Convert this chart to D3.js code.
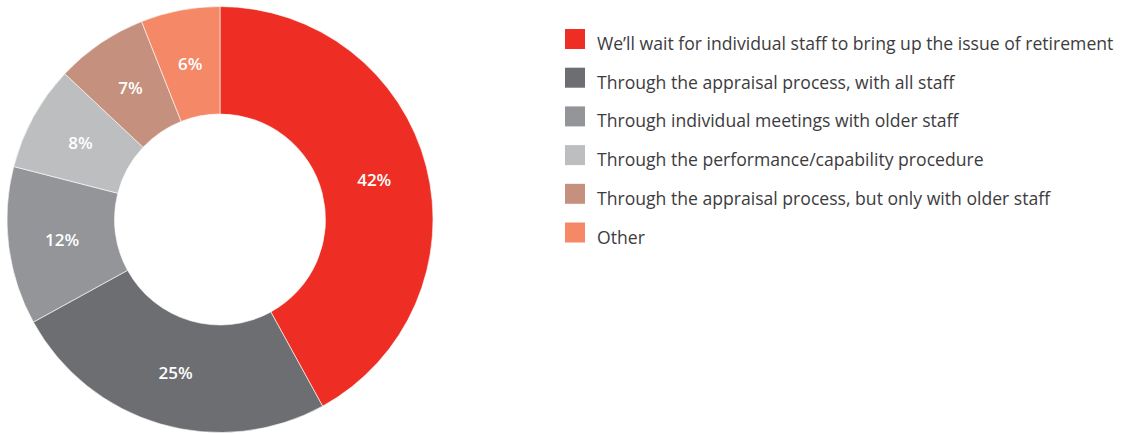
<!DOCTYPE html>
<html>
<head>
<meta charset="utf-8">
<script src="https://cdn.jsdelivr.net/npm/d3@7"></script>
<style>
  html, body { margin: 0; padding: 0; background: #ffffff; }
  svg { display: block; }
</style>
</head>
<body>
<svg id="chart" width="1126" height="434"></svg>
<script>
// How organisations raise the subject of retirement (share of respondents, %)
const categories = [
  "We\u2019ll wait for individual staff to bring up the issue of retirement",
  "Through the appraisal process, with all staff",
  "Through individual meetings with older staff",
  "Through the performance/capability procedure",
  "Through the appraisal process, but only with older staff",
  "Other"
];
const values = [42, 25, 12, 8, 7, 6];
const colors = ["#ee2e24", "#6d6e71", "#939598", "#bcbec0", "#c5917e", "#f58967"];

const svg = d3.select("#chart");
const cx = 220, cy = 219.5;
const outerR = 213, innerR = 105.5;

const color = d3.scaleOrdinal().domain(categories).range(colors);

const pie = d3.pie()
  .value(d => d.value)
  .sort(null)
  .startAngle(0)
  .endAngle(2 * Math.PI);

const arc = d3.arc().innerRadius(innerR).outerRadius(outerR);

const data = categories.map((c, i) => ({ name: c, value: values[i] }));
const arcs = pie(data);

const g = svg.append("g").attr("transform", `translate(${cx},${cy})`);

g.selectAll("path.slice")
  .data(arcs)
  .join("path")
  .attr("class", "slice")
  .attr("d", arc)
  .attr("fill", d => color(d.data.name))
  .attr("stroke", "#ffffff")
  .attr("stroke-width", 0.6);

g.selectAll("text.pct")
  .data(arcs)
  .join("text")
  .attr("class", "pct")
  .attr("transform", d => `translate(${arc.centroid(d)})`)
  .attr("text-anchor", "middle")
  .attr("dominant-baseline", "central")
  .attr("font-family", "'Open Sans', 'Noto Sans', sans-serif")
  .attr("font-weight", 600)
  .attr("font-size", 17)
  .attr("fill", "#ffffff")
  .text(d => d.data.value + "%");

// Legend
const legendX = 565, legendY = 29, rowH = 38.7, sw = 20;
const legend = svg.append("g").attr("transform", `translate(${legendX},${legendY})`);
const rows = legend.selectAll("g.row")
  .data(data)
  .join("g")
  .attr("class", "row")
  .attr("transform", (d, i) => `translate(0,${i * rowH})`);

rows.append("rect")
  .attr("width", sw)
  .attr("height", sw)
  .attr("fill", d => color(d.name));

rows.append("text")
  .attr("x", 32)
  .attr("y", 21)
  .attr("font-family", "'Open Sans', 'Noto Sans', sans-serif")
  .attr("font-size", 17.6)
  .attr("fill", "#3c3c3e")
  .text(d => d.name);
</script>
</body>
</html>
